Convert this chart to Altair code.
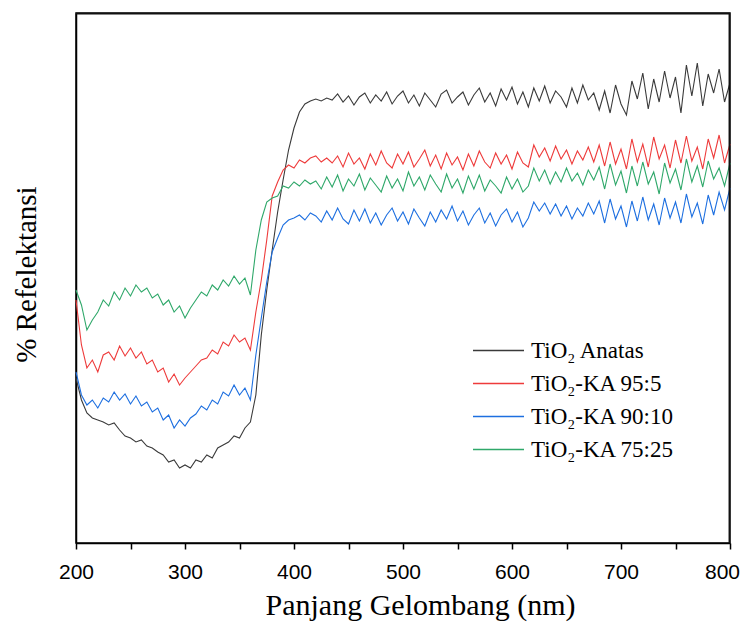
import altair as alt
import pandas as pd

# Wavelength grid (nm), 5 nm sampling
wavelength = list(range(200, 805, 5))

series_names = ["TiO₂ Anatas", "TiO₂-KA 95:5", "TiO₂-KA 90:10", "TiO₂-KA 75:25"]
series_colors = ["#3a3a3a", "#ee3b3b", "#1d6fe0", "#2fa86a"]

# Relative reflectance (arbitrary units)
anatas = [
    165, 143, 130, 125, 123, 121, 118, 120, 113, 107,
    105, 101, 103, 97, 95, 91, 88, 81, 83, 75,
    78, 75, 83, 81, 88, 85, 95, 98, 101, 107,
    105, 115, 121, 148, 208, 253, 293, 331, 363, 393,
    415, 431, 439, 442, 444, 442, 445, 443,
    449, 441, 447, 438, 446, 450, 440, 448, 442, 451,
    439, 447, 452, 440, 448, 437, 450, 443, 436, 449,
    453, 440, 446, 451, 438, 448, 455, 441, 450, 437,
    454, 443, 456, 439, 451, 436, 455, 442, 457, 440,
    452, 446, 436, 455, 440, 458, 443, 450, 433, 452,
    430, 458, 439, 428, 462, 444, 470, 434, 464, 441,
    472, 445, 466, 430, 478, 447, 480, 437, 469, 450,
    474, 441, 460,
]

ka_95_5 = [
    243, 198, 175, 183, 171, 188, 191, 183, 197, 187,
    195, 185, 191, 179, 183, 171, 175, 161, 169, 158,
    165, 171, 177, 183, 185, 193, 189, 201, 197, 208,
    201, 205, 193, 231, 263, 303, 347, 361, 373, 378,
    375, 383, 380, 385, 387, 381, 385, 380,
    387, 376, 390, 379, 385, 374, 389, 378, 392, 380,
    375, 389, 379, 391, 376, 384, 393, 377, 388, 374,
    390, 378, 386, 373, 389, 377, 392, 381, 375, 390,
    379, 388, 374, 391, 380, 376, 398, 386, 395, 382,
    397, 384, 393, 379, 392, 383, 396, 381, 398, 377,
    401, 379, 394, 374, 404, 381, 399, 376, 406, 384,
    398, 375, 403, 380, 407, 382, 396, 374, 404, 385,
    408, 380, 399,
]

ka_90_10 = [
    171, 148, 138, 143, 135, 145, 141, 151, 143, 149,
    139, 147, 137, 141, 131, 135, 123, 128, 115, 123,
    117, 125, 129, 137, 133, 143, 139, 151, 147, 158,
    148, 155, 143, 188, 225, 261, 291, 305, 318, 323,
    325, 328, 323, 330, 327,
    321, 332, 323, 335, 324, 319, 333, 322, 334, 320,
    330, 318, 328, 335, 322, 331, 319, 334, 325, 317,
    331, 321, 333, 324, 337, 322, 332, 318, 328, 335,
    320, 330, 317, 328, 334, 321, 331, 316, 325, 341,
    332, 340, 329, 339, 327, 337, 324, 335, 327, 340,
    329, 342, 320, 344, 324, 337, 316, 342, 322, 346,
    323, 339, 318, 345, 325, 341, 320, 349, 326, 340,
    319, 348, 328, 351, 333, 355,
]

ka_75_25 = [
    253, 238, 213, 223, 231, 243, 237, 251, 243, 255,
    247, 258, 251, 255, 245, 249, 238, 243, 231, 237,
    225, 235, 243, 251, 247, 258, 253, 263, 257, 267,
    259, 265, 248, 293, 323, 341, 345, 347, 357, 355,
    361, 357, 363, 359, 362,
    354, 366, 356, 368, 352, 364, 357, 369, 353, 365,
    358, 351, 367, 355, 364, 352, 371, 357, 366, 353,
    368, 359, 351, 369, 355, 364, 350, 367, 354, 368,
    352, 363, 357, 350, 366, 354, 364, 351, 357, 375,
    362, 373, 359, 371, 361, 375, 362, 370, 358, 373,
    363, 376, 354, 379, 358, 372, 350, 377, 357, 381,
    359, 371, 349, 380, 360, 374, 353, 384, 361, 377,
    356, 382, 364, 375, 357, 380,
]

x_ticks = [200, 250, 300, 350, 400, 450, 500, 550, 600, 650, 700, 750, 800]
x_range = [200, 800]
y_range = [0, 530]

# top and right edges of the plot box, traced as one extra path in the same line layer
frame_name = "frame"
frame_color = "#111111"
frame_x = [200, 799.4, 799.4]
frame_y = [529.4, 529.4, 0]

rows = []
for name, vals in zip(series_names, [anatas, ka_95_5, ka_90_10, ka_75_25]):
    assert len(vals) == len(wavelength), (name, len(vals))
    for order, (w, v) in enumerate(zip(wavelength, vals)):
        rows.append({"nm": w, "R": v, "series": name, "o": order, "sw": 1.1})
for order, (fx, fy) in enumerate(zip(frame_x, frame_y)):
    rows.append({"nm": fx, "R": fy, "series": frame_name, "o": order, "sw": 1.6})
df = pd.DataFrame(rows)

serif = "Liberation Serif"
sans = "Liberation Sans"
W, H = 654, 530

x_scale = alt.Scale(domain=x_range, nice=False, zero=False)
y_scale = alt.Scale(domain=y_range, nice=False)

chart = (
    alt.Chart(df)
    .mark_line()
    .encode(
        x=alt.X(
            "nm:Q",
            scale=x_scale,
            axis=alt.Axis(
                values=x_ticks,
                labelExpr="datum.value % 100 == 0 ? datum.label : ''",
                title="Panjang Gelombang (nm)",
                titleFont=serif,
                titleFontSize=30,
                titleFontWeight="normal",
                titleColor="black",
                titleX=344,
                titleY=71,
                titleBaseline="alphabetic",
                titleAlign="center",
                labelFont=sans,
                labelFontSize=21,
                labelColor="black",
                labelBaseline="alphabetic",
                labelPadding=29,
                labelOffset={"condition": {"test": "datum.value == 800", "value": -8}, "value": 0},
                tickSize=6,
                tickColor="black",
                tickWidth=1.5,
                domainColor="black",
                domainWidth=1.5,
                grid=False,
                labelFlush=False,
            ),
        ),
        y=alt.Y(
            "R:Q",
            scale=y_scale,
            axis=alt.Axis(
                labels=False,
                ticks=False,
                grid=False,
                title="% Refelektansi",
                titleFont=serif,
                titleFontSize=29,
                titleFontWeight="normal",
                titleColor="black",
                titleAngle=270,
                titleX=-41,
                titleY=261,
                titleAlign="center",
                titleBaseline="alphabetic",
                domainColor="black",
                domainWidth=1.5,
            ),
        ),
        color=alt.Color(
            "series:N",
            scale=alt.Scale(domain=series_names + [frame_name], range=series_colors + [frame_color]),
            legend=alt.Legend(
                values=series_names,
                title=None,
                orient="none",
                legendX=396,
                legendY=326,
                symbolType="stroke",
                symbolSize=2601,
                symbolStrokeWidth=1.3,
                clipHeight=23,
                labelFont=serif,
                labelFontSize=23,
                labelColor="black",
                labelOffset=6,
                rowPadding=9,
                labelLimit=300,
            ),
        ),
        strokeWidth=alt.StrokeWidth("sw:Q", scale=None, legend=None),
        detail="series:N",
        order="o:Q",
    )
    .properties(
        width=W,
        height=H,
        background="white",
        autosize=alt.AutoSizeParams(type="none"),
        padding={"left": 68, "top": 5, "right": 10, "bottom": 80},
    )
    .configure_view(stroke="black", strokeWidth=1.5)
)

chart.save("out.html", embed_options={"renderer": "svg", "actions": False})
